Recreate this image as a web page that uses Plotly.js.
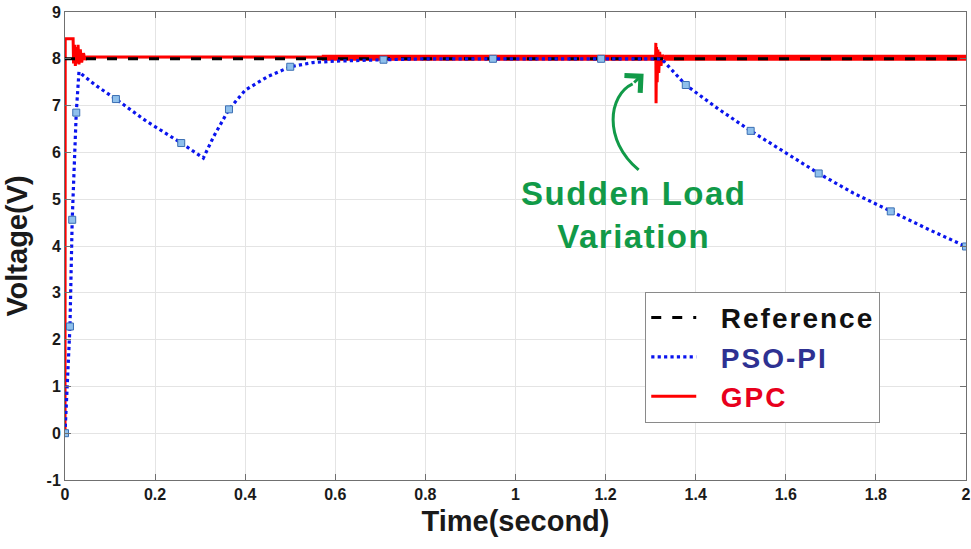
<!DOCTYPE html>
<html><head><meta charset="utf-8">
<script src="https://cdn.plot.ly/plotly-3.0.1.min.js"></script>
<style>html,body{margin:0;padding:0;background:#fff}#chart{width:971px;height:549px}</style>
</head><body><div id="chart"></div>
<script>
// ---- data ----
const refT = [0, 2];
const refV = [8, 8];

const psoT = [0, 0.005, 0.011, 0.016, 0.02, 0.025, 0.031, 0.07, 0.113, 0.18, 0.258, 0.3, 0.307, 0.33, 0.364, 0.4, 0.45, 0.5, 0.55, 0.6, 0.65, 0.707, 0.8, 0.95, 1.19, 1.316, 1.326, 1.378, 1.45, 1.522, 1.6, 1.673, 1.75, 1.833, 1.92, 2.0];
const psoV = [0, 1.0, 2.28, 4.56, 5.7, 6.85, 7.72, 7.42, 7.14, 6.67, 6.2, 5.93, 5.88, 6.34, 6.92, 7.33, 7.62, 7.83, 7.92, 7.95, 7.97, 7.98, 8.0, 8.0, 8.0, 8.0, 7.98, 7.44, 6.93, 6.46, 5.99, 5.55, 5.13, 4.74, 4.34, 3.99];

const psoMarkT = [0, 0.011, 0.016, 0.025, 0.113, 0.258, 0.364, 0.5, 0.707, 0.95, 1.19, 1.378, 1.522, 1.673, 1.833, 2.0];
const psoMarkV = [0, 2.28, 4.56, 6.85, 7.14, 6.2, 6.92, 7.83, 7.98, 8.0, 8.0, 7.44, 6.46, 5.55, 4.74, 3.99];

const gpcT = [0, 0.0005, 0.018, 0.019, 0.021, 0.023, 0.025, 0.027, 0.029, 0.031, 0.034, 0.037, 0.041, 0.045, 0.049, 0.57, 1.311, 1.3115, 1.312, 1.313, 1.3145, 1.316, 1.318, 1.32, 1.323, 1.326, 1.33, 2.0];
const gpcV = [0, 8.43, 8.43, 7.9, 8.3, 7.85, 8.25, 7.9, 8.3, 7.88, 8.2, 7.92, 8.12, 7.98, 8.04, 8.04, 8.03, 8.34, 7.05, 8.25, 7.5, 8.2, 7.7, 8.15, 7.85, 8.08, 8.02, 8.02];

// chattering band of GPC after ~0.57 s
const gpcBandT = [0.57, 1.31, null, 1.33, 2.0];
const gpcBandV = [8.02, 8.02, null, 8.02, 8.02];

const xTicks = [0, 0.2, 0.4, 0.6, 0.8, 1, 1.2, 1.4, 1.6, 1.8, 2];
const xTickText = ['0', '0.2', '0.4', '0.6', '0.8', '1', '1.2', '1.4', '1.6', '1.8', '2'];
const yTicks = [-1, 0, 1, 2, 3, 4, 5, 6, 7, 8, 9];
const yTickText = ['-1', '0', '1', '2', '3', '4', '5', '6', '7', '8', '9'];

const green = '#119a48';
const FONT = 'Liberation Sans, Arial, sans-serif';
const LS = 'letter-spacing:2px';

const traces = [
  {x: gpcBandT, y: gpcBandV, mode: 'lines', line: {color: '#ff0000', width: 6}, showlegend: false, hoverinfo: 'skip', legendgroup: 'gpc'},
  {x: gpcT, y: gpcV, mode: 'lines', name: '<span style="color:#e8001c;' + LS + '">&nbsp;&nbsp;GPC</span>', legendrank: 3, legendgroup: 'gpc',
   line: {color: '#ff0000', width: 3}},
  {x: refT, y: refV, mode: 'lines', name: '<span style="color:#111;' + LS + '">&nbsp;&nbsp;Reference</span>', legendrank: 1,
   line: {color: '#000000', width: 3, dash: '10px,11px'}},
  {x: psoT, y: psoV, mode: 'lines', name: '<span style="color:#2e3192;' + LS + '">&nbsp;&nbsp;PSO-PI</span>', legendrank: 2,
   line: {color: '#0a14ee', width: 3.2, dash: 'dot'}},
  {x: psoMarkT, y: psoMarkV, mode: 'markers', showlegend: false,
   marker: {symbol: 'square', size: 7, color: '#8fc0ec', line: {color: '#3b6fb3', width: 1}}}
];

const axisCommon = {
  showline: true, mirror: 'ticks', linecolor: '#707070', linewidth: 1,
  ticks: 'inside', ticklen: 6, tickcolor: '#707070',
  showgrid: true, gridcolor: '#e4e4e4', gridwidth: 1, zeroline: false,
  tickfont: {family: FONT, size: 16, color: '#1a1a1a', weight: 'bold'}
};

const layout = {
  width: 971, height: 549,
  margin: {l: 65, r: 5, t: 12, b: 69},
  paper_bgcolor: '#ffffff', plot_bgcolor: '#ffffff',
  font: {family: FONT},
  xaxis: Object.assign({}, axisCommon, {range: [0, 2], tickvals: xTicks, ticktext: xTickText,
    title: {text: 'Time(second)', font: {family: FONT, size: 29, color: '#1a1a1a', weight: 'bold'}, standoff: 8}}),
  yaxis: Object.assign({}, axisCommon, {range: [-1, 9], tickvals: yTicks, ticktext: yTickText,
    title: {text: 'Voltage(V)', font: {family: FONT, size: 29, color: '#1a1a1a', weight: 'bold'}, standoff: 10}}),
  legend: {x: 0.644, y: 0.402, xanchor: 'left', yanchor: 'top',
    bgcolor: '#ffffff', bordercolor: '#8a8a8a', borderwidth: 1,
    itemwidth: 45, traceorder: 'normal',
    font: {family: FONT, size: 28, weight: 'bold'}},
  annotations: [
    {x: 1.262, y: 4.66, xref: 'x', yref: 'y', showarrow: false,
     text: '<span style="letter-spacing:1.5px">Sudden Load</span><br><span style="letter-spacing:1.5px">Variation</span>', align: 'center',
     font: {family: FONT, size: 33, color: green, weight: 'bold'}},
    {x: 1.2844, y: 7.678, xref: 'x', yref: 'y', ax: 1.26, ay: 7.464, axref: 'x', ayref: 'y',
     text: '', showarrow: true, arrowhead: 4, arrowsize: 1.5, arrowwidth: 3, arrowcolor: green, standoff: 0}
  ],
  shapes: [
    {type: 'path', xref: 'x', yref: 'y', path: 'M1.2733,5.626 C1.1933,6.267 1.2067,7.229 1.26,7.464',
     line: {color: green, width: 3}}
  ]
};

Plotly.newPlot('chart', traces, layout, {displayModeBar: false, staticPlot: true});
</script></body></html>
